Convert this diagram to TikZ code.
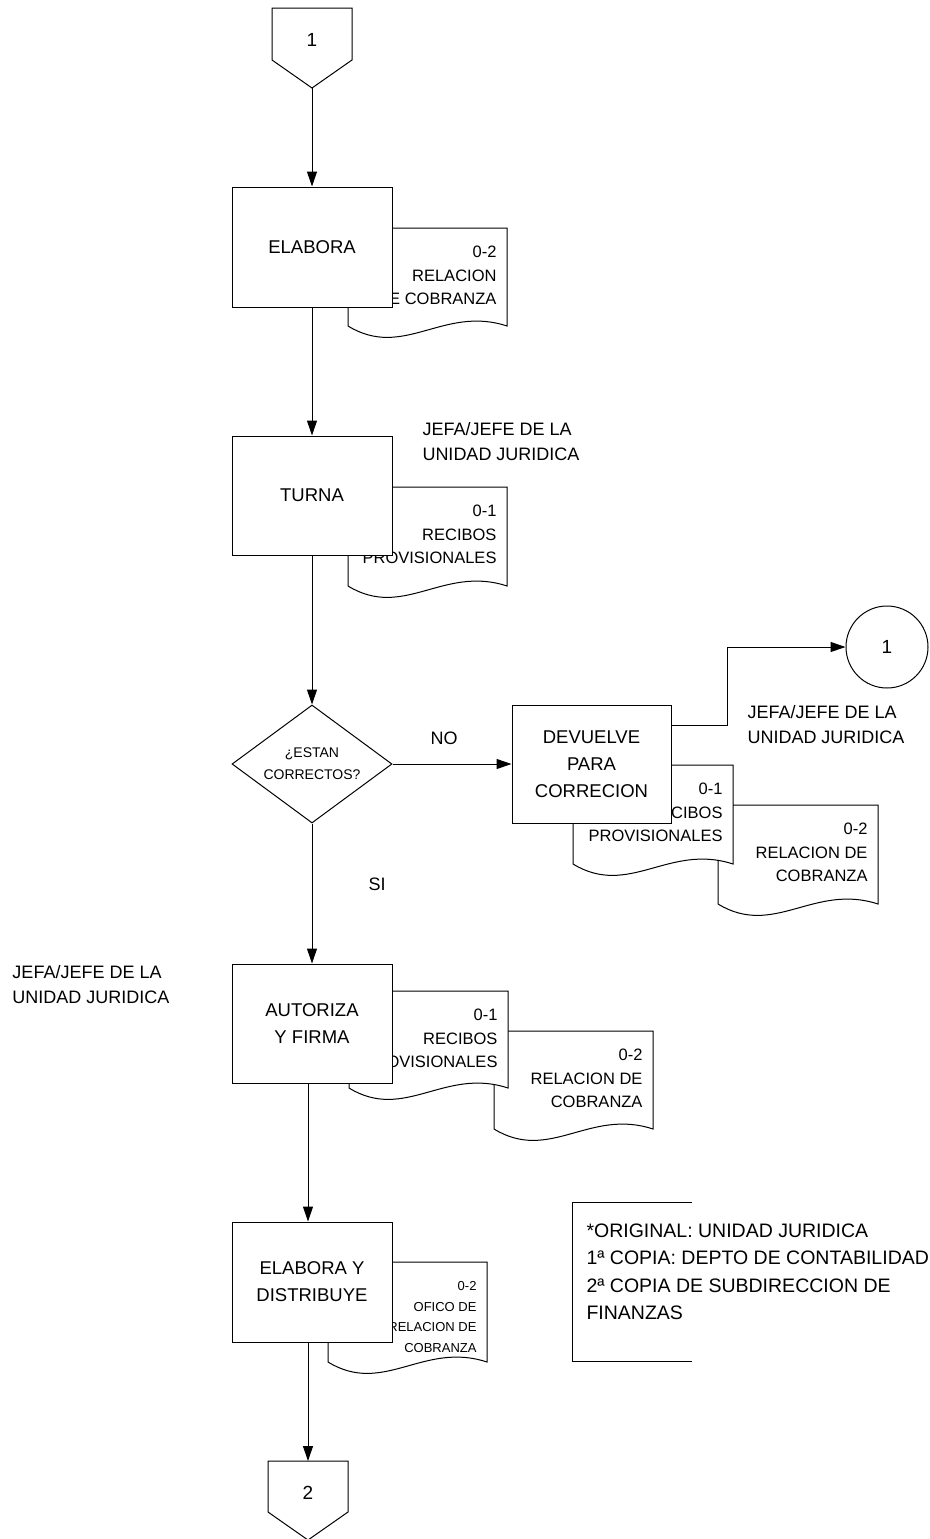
\documentclass[tikz,border=0pt]{standalone}
\usepackage{fontspec}
\setmainfont{Liberation Sans}
\usetikzlibrary{arrows.meta,shapes.geometric}
\newcommand{\docbox}[7]{%
  \filldraw[fill=white] (#2,#5) -- (#2,#3) -- (#4,#3) -- (#4,#5)
    .. controls ({#4-0.4*(#4-#2)},{#5-21}) and ({#2+0.35*(#4-#2)},{#5+34}) .. (#2,#5) -- cycle;
  \node[#6] (#1) at ({#4-10},{#3}) {#7};}
\begin{document}
\begin{tikzpicture}[x=1pt,y=-1pt,line width=1pt,
  procbox/.style={draw,fill=white,minimum width=160pt,minimum height=119pt,inner sep=0pt,align=center,font=\fontsize{18.5}{27}\selectfont},
  dtxt/.style={anchor=north east,align=right,inner sep=0pt,yshift=-17.5pt,font=\fontsize{16.5}{23.5}\selectfont},
  dtxtsmall/.style={anchor=north east,align=right,inner sep=0pt,yshift=-19pt,font=\fontsize{13}{20.5}\selectfont},
  lab/.style={anchor=west,align=left,inner sep=0pt,font=\fontsize{18}{25}\selectfont},
  arr/.style={-{Triangle[length=15pt,width=10pt]}}]
\useasboundingbox (0,0) rectangle (929,1539);

% off-page connector 1
\draw (272,8) -- (352,8) -- (352,60) -- (312,88) -- (272,60) -- cycle;
\node[font=\fontsize{19}{22}\selectfont] (op1) at (312,40) {1};
\coordinate (op1tip) at (312,88);

% ELABORA
\docbox{d1}{348}{228}{507}{326}{dtxt}{0-2\\RELACION\\DE COBRANZA}
\node[procbox,minimum height=120pt] (elab) at (312,247) {ELABORA};

% TURNA
\docbox{d2}{348}{487}{507}{586}{dtxt}{0-1\\RECIBOS\\PROVISIONALES}
\node[procbox] (turna) at (312,495.5) {TURNA};
\node[lab] (lab1) at (422,441.5) {JEFA/JEFE DE LA\\UNIDAD JURIDICA};

% decision
\node[draw,diamond,minimum width=160pt,minimum height=118pt,inner sep=0pt] (dia) at (312,764) {};
\node[align=center,inner sep=0pt,font=\fontsize{14}{22}\selectfont] (diat) at (dia.center) {¿ESTAN\\CORRECTOS?};
\node[font=\fontsize{18}{22}\selectfont] (no) at (444,738) {NO};
\node[font=\fontsize{18}{22}\selectfont] (si) at (377,884) {SI};

% DEVUELVE
\docbox{d4}{718}{805}{878}{904}{dtxt}{0-2\\RELACION DE\\COBRANZA}
\docbox{d3}{573}{765}{733}{864}{dtxt}{0-1\\RECIBOS\\PROVISIONALES}
\node[procbox,minimum width=159pt,minimum height=118pt] (dev) at (591.5,764) {DEVUELVE\\PARA\\CORRECION};
\node[draw,circle,minimum size=82pt,inner sep=0pt,font=\fontsize{19}{22}\selectfont] (c1) at (887,647) {1};
\node[lab] (lab2) at (747,725) {JEFA/JEFE DE LA\\UNIDAD JURIDICA};

% AUTORIZA
\docbox{d6}{494}{1031}{653}{1129}{dtxt}{0-2\\RELACION DE\\COBRANZA}
\docbox{d5}{349}{991}{508}{1088}{dtxt}{0-1\\RECIBOS\\PROVISIONALES}
\node[procbox] (aut) at (312,1023.5) {AUTORIZA\\Y FIRMA};
\node[lab] (lab3) at (12,985) {JEFA/JEFE DE LA\\UNIDAD JURIDICA};

% ELABORA Y DISTRIBUYE
\docbox{d7}{328}{1262}{487}{1362}{dtxtsmall}{0-2\\OFICO DE\\RELACION DE\\COBRANZA}
\node[procbox,minimum height=120pt] (elab2) at (312,1282) {ELABORA Y\\DISTRIBUYE};

% note
\draw (692,1202) -- (572,1202) -- (572,1361) -- (692,1361);
\node[anchor=west,align=left,inner sep=0pt,font=\fontsize{19.5}{27.5}\selectfont] (note) at (586,1272)
  {*ORIGINAL: UNIDAD JURIDICA\\1ª COPIA: DEPTO DE CONTABILIDAD\\2ª COPIA DE SUBDIRECCION DE\\FINANZAS};

% off-page connector 2
\draw (268,1461) -- (348,1461) -- (348,1512) -- (308,1540) -- (268,1512) -- cycle;
\node[font=\fontsize{19}{22}\selectfont] (op2) at (308,1493) {2};
\coordinate (op2top) at (308,1461);

% connectors
\draw[arr] (op1tip) -- (elab.north);
\draw[arr] (elab.south) -- (turna.north);
\draw[arr] (turna.south) -- (dia.north);
\draw[arr] (dia.east) -- (dev.west);
\draw[arr] (dia.south) -- (aut.north);
\draw[arr] ([xshift=-4pt]aut.south) -- ([xshift=-4pt]elab2.north);
\draw[arr] ([xshift=-4pt]elab2.south) -- (op2top);
\draw[arr] ([yshift=39pt]dev.east) -- ++(56,0) |- (c1.west);
\end{tikzpicture}
\end{document}
